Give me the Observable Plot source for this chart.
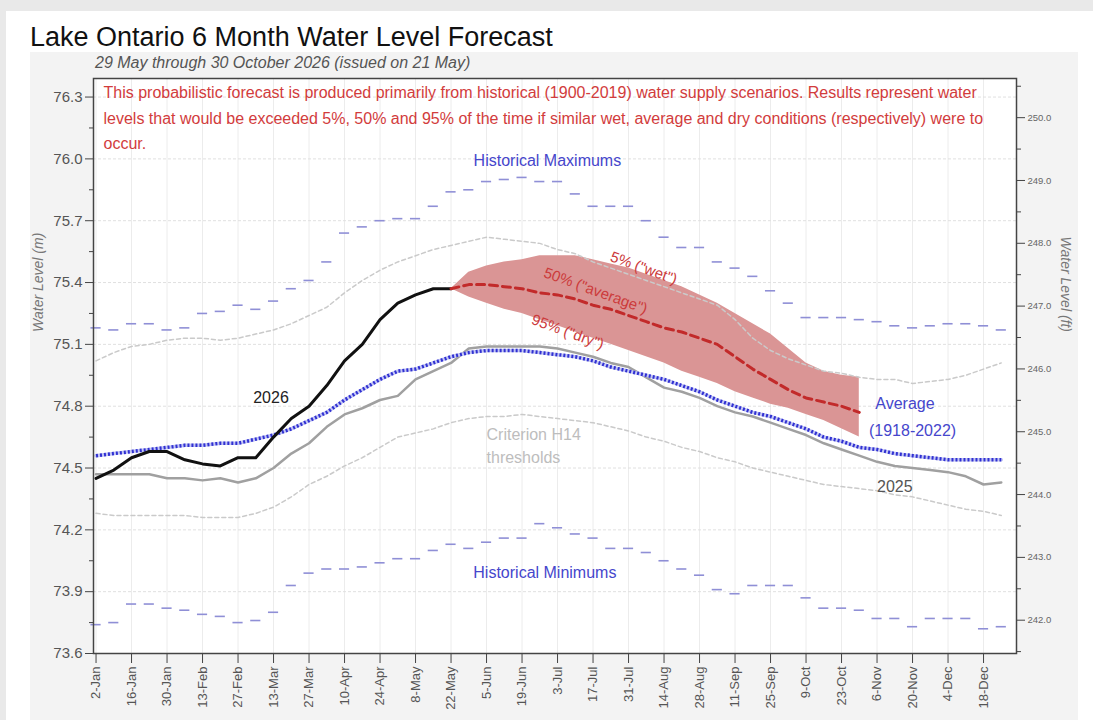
<!DOCTYPE html>
<html><head><meta charset="utf-8">
<script src="https://cdn.jsdelivr.net/npm/d3@7"></script>
<script src="https://cdn.jsdelivr.net/npm/@observablehq/plot@0.6"></script>
<style>
html,body{margin:0;padding:0;}
body{width:1093px;height:720px;overflow:hidden;background:#e9e9e9;position:relative;font-family:"Liberation Sans",Arial,sans-serif;}
#white{position:absolute;left:6px;top:11px;right:0;bottom:0;background:#fff;}
#panel{position:absolute;left:30px;top:52px;width:1048px;height:668px;background:#f3f3f3;}
#title{position:absolute;left:30px;top:24px;margin:0;font-size:27px;line-height:27px;font-weight:normal;color:#111;white-space:nowrap;}
#subtitle{position:absolute;left:95px;top:55px;margin:0;font-size:16px;line-height:16px;font-style:italic;color:#555;white-space:nowrap;z-index:2;}
#chart{position:absolute;left:30px;top:52px;}
</style></head>
<body>
<div id="white"></div>
<div id="panel"></div>
<h1 id="title">Lake Ontario 6 Month Water Level Forecast</h1>
<div id="chart"></div>
<div id="subtitle">29 May through 30 October 2026 (issued on 21 May)</div>
<script>
// ---- data ----
const weeks = ["2026-01-02","2026-01-09","2026-01-16","2026-01-23","2026-01-30","2026-02-06","2026-02-13","2026-02-20","2026-02-27","2026-03-06","2026-03-13","2026-03-20","2026-03-27","2026-04-03","2026-04-10","2026-04-17","2026-04-24","2026-05-01","2026-05-08","2026-05-15","2026-05-22","2026-05-29","2026-06-05","2026-06-12","2026-06-19","2026-06-26","2026-07-03","2026-07-10","2026-07-17","2026-07-24","2026-07-31","2026-08-07","2026-08-14","2026-08-21","2026-08-28","2026-09-04","2026-09-11","2026-09-18","2026-09-25","2026-10-02","2026-10-09","2026-10-16","2026-10-23","2026-10-30","2026-11-06","2026-11-13","2026-11-20","2026-11-27","2026-12-04","2026-12-11","2026-12-18","2026-12-25"];
const histMax = [75.18,75.17,75.20,75.20,75.17,75.18,75.25,75.26,75.29,75.27,75.31,75.37,75.41,75.50,75.64,75.67,75.70,75.71,75.71,75.77,75.84,75.85,75.89,75.90,75.91,75.89,75.89,75.83,75.77,75.77,75.77,75.70,75.62,75.57,75.57,75.50,75.47,75.43,75.36,75.30,75.23,75.23,75.23,75.22,75.21,75.19,75.18,75.19,75.20,75.20,75.19,75.17];
const histMin = [73.74,73.75,73.84,73.84,73.82,73.81,73.79,73.78,73.75,73.76,73.80,73.93,73.99,74.01,74.01,74.02,74.04,74.06,74.06,74.10,74.13,74.11,74.14,74.16,74.16,74.23,74.21,74.18,74.16,74.11,74.11,74.09,74.05,74.01,73.98,73.91,73.89,73.93,73.93,73.93,73.87,73.82,73.82,73.81,73.77,73.77,73.73,73.77,73.77,73.77,73.72,73.73];
const h14Upper = [75.02,75.06,75.09,75.10,75.12,75.13,75.13,75.12,75.13,75.15,75.17,75.20,75.24,75.28,75.35,75.41,75.46,75.50,75.53,75.56,75.58,75.60,75.62,75.61,75.60,75.59,75.56,75.54,75.50,75.47,75.44,75.41,75.38,75.35,75.32,75.29,75.22,75.13,75.07,75.03,75.00,74.97,74.96,74.94,74.93,74.93,74.91,74.92,74.93,74.95,74.98,75.01];
const h14Lower = [74.28,74.27,74.27,74.27,74.27,74.27,74.26,74.26,74.26,74.28,74.31,74.36,74.42,74.46,74.51,74.55,74.60,74.65,74.67,74.69,74.72,74.74,74.75,74.75,74.76,74.75,74.74,74.73,74.72,74.70,74.68,74.65,74.63,74.60,74.58,74.55,74.53,74.50,74.48,74.46,74.44,74.42,74.41,74.40,74.39,74.37,74.36,74.34,74.32,74.30,74.29,74.27];
const average = [74.56,74.57,74.58,74.59,74.60,74.61,74.61,74.62,74.62,74.64,74.66,74.69,74.73,74.77,74.83,74.88,74.93,74.97,74.98,75.01,75.04,75.06,75.07,75.07,75.07,75.06,75.05,75.04,75.02,74.99,74.97,74.95,74.93,74.90,74.87,74.83,74.80,74.77,74.75,74.72,74.69,74.65,74.63,74.60,74.59,74.57,74.56,74.55,74.54,74.54,74.54,74.54];
const level2025 = [74.47,74.47,74.47,74.47,74.45,74.45,74.44,74.45,74.43,74.45,74.50,74.57,74.62,74.70,74.76,74.79,74.83,74.85,74.93,74.97,75.01,75.08,75.09,75.09,75.09,75.09,75.08,75.06,75.04,75.01,74.99,74.94,74.89,74.87,74.84,74.80,74.77,74.75,74.72,74.69,74.66,74.62,74.59,74.56,74.53,74.51,74.50,74.49,74.48,74.46,74.42,74.43];
const level2026 = [74.45,74.49,74.55,74.58,74.58,74.54,74.52,74.51,74.55,74.55,74.65,74.74,74.80,74.90,75.02,75.10,75.22,75.30,75.34,75.37,75.37];
// forecast from the week of 22 May (index 20) to 30 Oct (index 43)
const forecastStart = 20;
const fc50 = [75.37,75.39,75.39,75.38,75.37,75.35,75.34,75.32,75.29,75.27,75.24,75.21,75.18,75.16,75.13,75.10,75.04,74.98,74.93,74.88,74.84,74.82,74.80,74.77];
const fc5  = [75.37,75.45,75.48,75.50,75.51,75.53,75.53,75.53,75.51,75.49,75.47,75.44,75.41,75.38,75.34,75.30,75.25,75.20,75.15,75.08,75.01,74.97,74.95,74.94];
const fc95 = [75.37,75.33,75.30,75.27,75.25,75.22,75.19,75.16,75.13,75.10,75.07,75.04,75.01,74.97,74.94,74.91,74.87,74.84,74.81,74.79,74.76,74.73,74.69,74.65];

const xTickDates = ["2026-01-02","2026-01-16","2026-01-30","2026-02-13","2026-02-27","2026-03-13","2026-03-27","2026-04-10","2026-04-24","2026-05-08","2026-05-22","2026-06-05","2026-06-19","2026-07-03","2026-07-17","2026-07-31","2026-08-14","2026-08-28","2026-09-11","2026-09-25","2026-10-09","2026-10-23","2026-11-06","2026-11-20","2026-12-04","2026-12-18"];
const xTickLabels = ["2-Jan","16-Jan","30-Jan","13-Feb","27-Feb","13-Mar","27-Mar","10-Apr","24-Apr","8-May","22-May","5-Jun","19-Jun","3-Jul","17-Jul","31-Jul","14-Aug","28-Aug","11-Sep","25-Sep","9-Oct","23-Oct","6-Nov","20-Nov","4-Dec","18-Dec"];
const yTicksM = [73.6,73.9,74.2,74.5,74.8,75.1,75.4,75.7,76.0,76.3];
const yMinorM = [73.75,74.05,74.35,74.65,74.95,75.25,75.55,75.85,76.15];
const yTicksFt = [242,243,244,245,246,247,248,249,250];
const yMinorFt = [241.5,242.5,243.5,244.5,245.5,246.5,247.5,248.5,249.5,250.5];
const FT = 0.3048;

const noteText = "This probabilistic forecast is produced primarily from historical (1900-2019) water supply scenarios. Results represent water\nlevels that would be exceeded 5%, 50% and 95% of the time if similar wet, average and dry conditions (respectively) were to\noccur.";
const blueLabels = [
  {text: "Historical Maximums", date: "2026-06-29", value: 75.99},
  {text: "Historical Minimums", date: "2026-06-28", value: 73.99},
  {text: "Average", date: "2026-11-17", value: 74.81},
  {text: "(1918-2022)", date: "2026-11-20", value: 74.68}
];
const grayLabels = [
  {text: "Criterion H14", date: "2026-06-05", value: 74.66},
  {text: "thresholds", date: "2026-06-05", value: 74.55}
];
const forecastLabels = [
  {text: '5% ("wet")', date: "2026-08-06", value: 75.47},
  {text: '50% ("average")', date: "2026-07-18", value: 75.36},
  {text: '95% ("dry")', date: "2026-07-07", value: 75.16}
];
const yearLabels = [
  {text: "2026", date: "2026-03-12", value: 74.84},
  {text: "2025", date: "2026-11-13", value: 74.41}
];

// ---- build ----
const P = d3.isoParse;
const W = weeks.map(P);
const rows = W.map((date, i) => ({date, hmax: histMax[i], hmin: histMin[i], up: h14Upper[i], lo: h14Lower[i], avg: average[i], y25: level2025[i]}));
const obs = level2026.map((v, i) => ({date: W[i], v}));
const fc = fc50.map((v, i) => ({date: W[forecastStart + i], p50: v, p5: fc5[i], p95: fc95[i]}));
const tickDates = xTickDates.map(P);
const labelMap = new Map(tickDates.map((d, i) => [+d, xTickLabels[i]]));
const conv = a => a.map(d => ({...d, date: P(d.date)}));
const dx1 = d => d3.utcDay.offset(d.date, -2);
const dx2 = d => d3.utcDay.offset(d.date, 2);

const font = '"Liberation Sans", Arial, sans-serif';
const chart = Plot.plot({
  width: 1048, height: 668,
  marginLeft: 63, marginRight: 62, marginTop: 26, marginBottom: 67,
  style: {background: "#f3f3f3", color: "#555", fontFamily: font, overflow: "visible"},
  x: {type: "utc", domain: [P("2026-01-01"), P("2026-12-31")]},
  y: {domain: [73.6, 76.39]},
  marks: [
    Plot.frame({fill: "white", stroke: null}),
    Plot.gridX(tickDates, {stroke: "#ececec", strokeOpacity: 1}),
    Plot.gridY(yTicksM, {stroke: "#e0e0e0", strokeOpacity: 1, strokeDasharray: "3,2"}),
    Plot.areaY(fc, {x: "date", y1: "p95", y2: "p5", fill: "#da9595", fillOpacity: 1}),
    Plot.lineY(rows, {x: "date", y: "up", stroke: "#cacaca", strokeWidth: 1.5, strokeDasharray: "4,3"}),
    Plot.lineY(rows, {x: "date", y: "lo", stroke: "#cacaca", strokeWidth: 1.5, strokeDasharray: "4,3"}),
    Plot.ruleY(rows, {y: "hmax", x1: dx1, x2: dx2, stroke: "#8f8fd6", strokeWidth: 1.6}),
    Plot.ruleY(rows, {y: "hmin", x1: dx1, x2: dx2, stroke: "#8f8fd6", strokeWidth: 1.6}),
    Plot.lineY(rows, {x: "date", y: "y25", stroke: "#a0a0a0", strokeWidth: 2.5}),
    Plot.lineY(rows, {x: "date", y: "avg", stroke: "#c3c6f4", strokeWidth: 3.5}),
    Plot.lineY(rows, {x: "date", y: "avg", stroke: "#3131d2", strokeWidth: 3.5, strokeDasharray: "2,2", strokeLinecap: "butt"}),
    Plot.lineY(obs, {x: "date", y: "v", stroke: "#111", strokeWidth: 3}),
    Plot.lineY(fc, {x: "date", y: "p50", stroke: "#c22a2a", strokeWidth: 3, strokeDasharray: "8,5"}),
    Plot.text([noteText], {frameAnchor: "top-left", dx: 10, dy: 2, lineAnchor: "top", textAnchor: "start", lineHeight: 1.58, fontSize: 16, fill: "#d23c3c"}),
    Plot.text(conv(blueLabels), {x: "date", y: "value", text: "text", fill: "#4646cc", fontSize: 16}),
    Plot.text(conv(grayLabels), {x: "date", y: "value", text: "text", fill: "#bdbdbd", fontSize: 16, textAnchor: "start"}),
    Plot.text(conv(forecastLabels), {x: "date", y: "value", text: "text", fill: "#cc3b3b", fontSize: 15, rotate: 20}),
    Plot.text(conv(yearLabels).slice(0, 1), {x: "date", y: "value", text: "text", fill: "#222", fontSize: 16}),
    Plot.text(conv(yearLabels).slice(1), {x: "date", y: "value", text: "text", fill: "#555", fontSize: 16}),
    Plot.axisX(tickDates, {tickFormat: d => labelMap.get(+d), tickRotate: -90, tickSize: 10, fontSize: 13, label: null, stroke: "#444", fill: "#555"}),
    Plot.axisY(yTicksM, {anchor: "left", tickSize: 8, tickFormat: ".1f", fontSize: 15, label: null, stroke: "#444", fill: "#555"}),
    Plot.axisY(yMinorM, {anchor: "left", tickSize: 4, tickFormat: () => "", label: null, stroke: "#444"}),
    Plot.axisY(yTicksFt.map(f => f * FT), {anchor: "right", tickSize: 8, tickFormat: d => (d / FT).toFixed(1), fontSize: 9.5, label: null, stroke: "#444", fill: "#666"}),
    Plot.axisY(yMinorFt.map(f => f * FT), {anchor: "right", tickSize: 4, tickFormat: () => "", label: null, stroke: "#444"}),
    Plot.text(["Water Level (m)"], {frameAnchor: "left", dx: -55, dy: -34, rotate: -90, fontStyle: "italic", fontSize: 14, fill: "#777"}),
    Plot.text(["Water Level (ft)"], {frameAnchor: "right", dx: 49, dy: -34, rotate: 90, fontStyle: "italic", fontSize: 14, fill: "#777"}),
    Plot.frame({stroke: "#444", strokeWidth: 1.5})
  ]
});
document.getElementById("chart").appendChild(chart);
</script>
</body></html>
